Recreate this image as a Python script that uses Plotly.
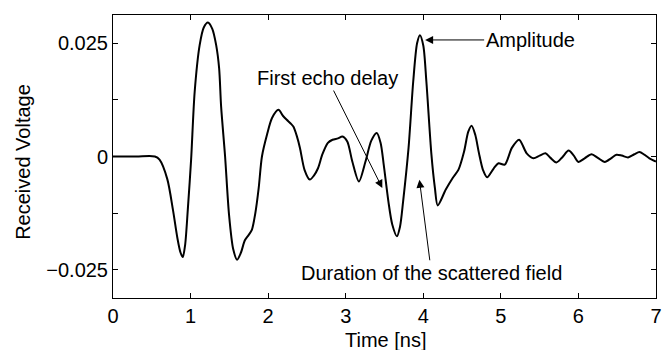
import plotly.graph_objects as go

time_ns = [0.0, 0.3, 0.54, 0.60, 0.70, 0.773, 0.83, 0.87, 0.90, 0.93, 0.964, 1.007, 1.053, 1.117, 1.17, 1.224,
           1.28, 1.33, 1.368, 1.394, 1.445, 1.496, 1.55, 1.60, 1.65, 1.70, 1.75, 1.79, 1.835, 1.878, 1.92,
           1.985, 2.05, 2.133, 2.19, 2.24, 2.29, 2.325, 2.37, 2.41, 2.47, 2.537, 2.59, 2.643, 2.70, 2.77,
           2.83, 2.90, 2.958, 3.02, 3.085, 3.17, 3.255, 3.33, 3.40, 3.45, 3.49, 3.55, 3.60, 3.66, 3.70,
           3.74, 3.81, 3.87, 3.92, 3.957, 4.00, 4.04, 4.105, 4.15, 4.186, 4.29, 4.377, 4.454, 4.526, 4.58,
           4.623, 4.67, 4.717, 4.77, 4.823, 4.909, 4.97, 5.05, 5.142, 5.235, 5.333, 5.42, 5.50, 5.576,
           5.64, 5.716, 5.79, 5.873, 5.94, 6.0, 6.08, 6.17, 6.25, 6.34, 6.42, 6.49, 6.56, 6.64, 6.72,
           6.787, 6.85, 6.915, 7.0]
voltage = [0.0, 0.0, 0.0, -0.0007, -0.0050, -0.0118, -0.0180, -0.0212, -0.0222, -0.0195, -0.0118, -0.0007,
           0.0143, 0.0246, 0.0285, 0.0296, 0.0282, 0.0246, 0.0195, 0.0110, 0.0, -0.0129, -0.0205, -0.0228,
           -0.0212, -0.0185, -0.0173, -0.0162, -0.0125, -0.0070, 0.0, 0.0048, 0.0085, 0.0103, 0.0090,
           0.0081, 0.0073, 0.0066, 0.0045, 0.0019, -0.0030, -0.0051, -0.0042, -0.0026, 0.0005, 0.0030,
           0.0037, 0.0040, 0.0044, 0.0033, -0.0011, -0.0055, -0.0011, 0.0035, 0.0052, 0.0030, -0.0018,
           -0.0099, -0.0150, -0.0176, -0.0155, -0.0099, 0.0019, 0.0165, 0.0250, 0.0268, 0.0245, 0.0165,
           0.0004, -0.0070, -0.0108, -0.0073, -0.0048, -0.0029, 0.0011, 0.0055, 0.0068, 0.0048, 0.0008,
           -0.0030, -0.0046, -0.0026, -0.0015, -0.0018, 0.0019, 0.0037, 0.0007, -0.0004, 0.0002, 0.0007,
           -0.0003, -0.0013, -0.0002, 0.0013, 0.0002, -0.0012, -0.0004, 0.0005, -0.0003, -0.0012, -0.0004,
           0.0004, 0.0002, -0.0002, 0.0005, 0.0010, 0.0004, -0.0004, -0.0011]

x_ticks = [0, 1, 2, 3, 4, 5, 6, 7]
x_labels = ["0", "1", "2", "3", "4", "5", "6", "7"]
y_ticks = [-0.025, -0.0125, 0, 0.0125, 0.025]
y_labels = ["\u22120.025", "", "0", "", "0.025"]

FONT = "Liberation Sans, Arial, Helvetica, sans-serif"

fig = go.Figure()
fig.add_trace(go.Scatter(x=time_ns, y=voltage, mode="lines",
                         line=dict(color="black", width=2, shape="spline", smoothing=0.8),
                         showlegend=False, hoverinfo="skip"))

axis_common = dict(showline=True, linecolor="black", linewidth=1, mirror="ticks",
                   ticks="inside", ticklen=5, tickcolor="black", tickwidth=1,
                   showgrid=False, zeroline=False,
                   tickfont=dict(family=FONT, size=20, color="black"))

fig.update_xaxes(range=[0, 7], tickvals=x_ticks, ticktext=x_labels, **axis_common)
fig.update_yaxes(range=[-0.03125, 0.03125], tickvals=y_ticks, ticktext=y_labels, **axis_common)

ann_font = dict(family=FONT, size=20, color="black")
annotations = [
    dict(text="Received Voltage", xref="paper", yref="paper", x=(22 - 113) / 549, y=(298.3 - 162) / 283.3,
         xanchor="center", yanchor="middle", textangle=-90, showarrow=False, font=ann_font),
    dict(text="Time [ns]", xref="paper", yref="paper", x=(388.7 - 113) / 549, y=(298.3 - 340) / 283.3,
         xanchor="center", yanchor="middle", showarrow=False, font=ann_font),
    dict(text="First echo delay", x=3.472, y=-0.00697, ax=-55, ay=-110, showarrow=True,
         arrowhead=2, arrowsize=1.6, arrowwidth=1, arrowcolor="black", font=ann_font),
    dict(text="Amplitude", x=4.024, y=0.02574, ax=105, ay=0, showarrow=True,
         arrowhead=2, arrowsize=1.6, arrowwidth=1, arrowcolor="black", font=ann_font),
    dict(text="Duration of the scattered field", x=3.95, y=-0.00514, ax=12, ay=93, showarrow=True,
         arrowhead=2, arrowsize=1.6, arrowwidth=1, arrowcolor="black", font=ann_font),
]

fig.update_layout(width=668, height=350, margin=dict(l=113, r=6, t=15, b=52),
                  paper_bgcolor="white", plot_bgcolor="white",
                  font=dict(family=FONT, size=20, color="black"),
                  annotations=annotations)

fig.write_html("out.html", config={"displayModeBar": False},
               post_script="document.body.style.margin='0';document.body.style.overflow='hidden';")
